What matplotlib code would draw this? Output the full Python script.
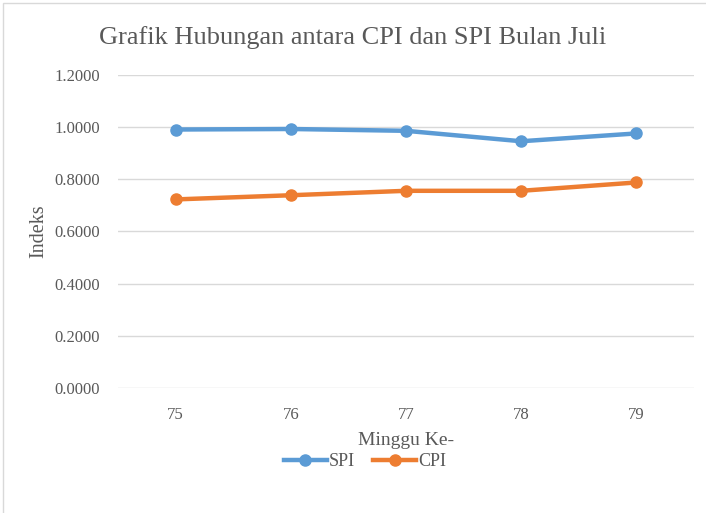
import matplotlib
matplotlib.use('Agg')
from matplotlib import pyplot as plt
from matplotlib.lines import Line2D

# data
weeks = ['75', '76', '77', '78', '79']
spi = [0.991, 0.993, 0.986, 0.946, 0.976]
cpi = [0.723, 0.739, 0.756, 0.756, 0.788]
yticks = [0.0, 0.2, 0.4, 0.6, 0.8, 1.0, 1.2]

blue = '#5B9BD5'
orange = '#ED7D31'
grey_txt = '#595959'

plt.rcParams['font.family'] = ['Liberation Serif', 'DejaVu Serif']

fig = plt.figure(figsize=(7.06, 5.13), dpi=100)
ax = fig.add_axes([118/706, 1-388/513, 576/706, 313/513])

x = list(range(len(weeks)))
ax.plot(x, spi, color=blue, lw=3.2, marker='o', ms=8, label='SPI',
        solid_capstyle='round', zorder=3)
ax.plot(x, cpi, color=orange, lw=3.2, marker='o', ms=8, label='CPI',
        solid_capstyle='round', zorder=3)

ax.set_xlim(-0.5, len(weeks)-0.5)
ax.set_ylim(0, 1.2)
ax.set_xticks(x)
ax.set_xticklabels(weeks)
ax.set_yticks(yticks)
ax.set_yticklabels(['%.4f' % v for v in yticks])
ax.tick_params(axis='both', length=0, labelsize=12, colors=grey_txt)
ax.tick_params(axis='x', pad=14)
ax.tick_params(axis='y', pad=13)

for s in ax.spines.values():
    s.set_visible(False)
ax.grid(axis='y', color='#D9D9D9', lw=1)
ax.set_axisbelow(True)

ax.set_xlabel('Minggu Ke-', fontsize=14, color=grey_txt, labelpad=6)
ax.set_ylabel('Indeks', fontsize=14.5, color=grey_txt, labelpad=4)

fig.text(0.5, 1-38/513, 'Grafik Hubungan antara CPI dan SPI Bulan Juli',
         ha='center', va='center', fontsize=19, color=grey_txt)

handles = [Line2D([], [], color=blue, lw=3.2, marker='o', ms=8),
           Line2D([], [], color=orange, lw=3.2, marker='o', ms=8)]
fig.legend(handles, ['SPI', 'CPI'], loc='center', bbox_to_anchor=(365/706, 1-462/513),
           ncol=2, frameon=False, fontsize=13, handlelength=2.4, columnspacing=1.0,
           handletextpad=0.1, labelcolor=grey_txt)

# chart area border
border = plt.Rectangle((3/706, -0.05), 1.1, 1-3/513+0.05, transform=fig.transFigure,
                       fill=False, ec='#D9D9D9', lw=1)
fig.patches.append(border)

fig.savefig('out.png', dpi=100)
